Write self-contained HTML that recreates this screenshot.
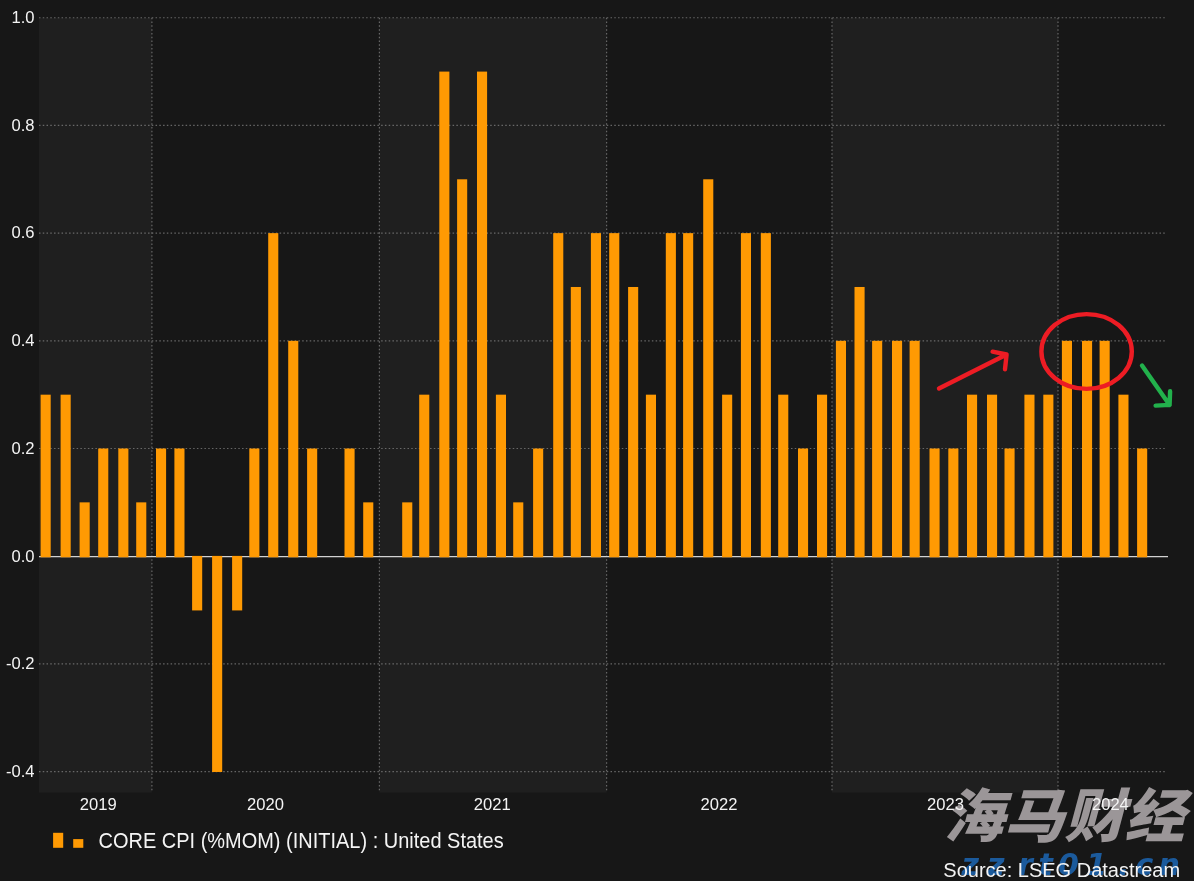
<!DOCTYPE html>
<html lang="zh"><head><meta charset="utf-8"><title>CORE CPI (%MOM)</title>
<style>
html,body{margin:0;padding:0;background:#171717;}
body{width:1194px;height:881px;overflow:hidden;position:relative;}
svg{position:absolute;left:0;top:0;display:block;}
text{font-family:"Liberation Sans",sans-serif;fill:#f4f4f4;}
.wm{font-family:"Liberation Sans","Noto Sans CJK SC",sans-serif;font-weight:900;fill:#9b9698;}
.url{font-family:"DejaVu Sans","Liberation Sans",sans-serif;font-weight:bold;font-style:italic;fill:#1b5a9c;}
</style></head><body>
<svg width="1194" height="881" viewBox="0 0 1194 881">
<rect x="0" y="0" width="1194" height="881" fill="#171717"/>
<rect x="39.0" y="17.85" width="112.9" height="774.75" fill="#1f1f1f"/>
<rect x="379.4" y="17.85" width="227.2" height="774.75" fill="#1f1f1f"/>
<rect x="832.0" y="17.85" width="226.0" height="774.75" fill="#1f1f1f"/>
<g stroke="#8c8c8c" stroke-width="1.2" stroke-dasharray="1.5 2.26" fill="none" opacity="0.68">
<line x1="39.0" y1="17.75" x2="1167.0" y2="17.75"/>
<line x1="39.0" y1="125.44" x2="1167.0" y2="125.44"/>
<line x1="39.0" y1="233.13" x2="1167.0" y2="233.13"/>
<line x1="39.0" y1="340.82" x2="1167.0" y2="340.82"/>
<line x1="39.0" y1="448.51" x2="1167.0" y2="448.51"/>
<line x1="39.0" y1="663.89" x2="1167.0" y2="663.89"/>
<line x1="39.0" y1="771.58" x2="1167.0" y2="771.58"/>
<line x1="151.9" y1="17.85" x2="151.9" y2="792.60"/>
<line x1="379.4" y1="17.85" x2="379.4" y2="792.60"/>
<line x1="606.6" y1="17.85" x2="606.6" y2="792.60"/>
<line x1="832.0" y1="17.85" x2="832.0" y2="792.60"/>
<line x1="1058.0" y1="17.85" x2="1058.0" y2="792.60"/>
</g>
<line x1="39.0" y1="556.65" x2="1168.0" y2="556.65" stroke="#d2d2d2" stroke-width="1.3"/>
<g fill="#ff9a03">
<rect x="40.6" y="394.67" width="10.1" height="162.63"/>
<rect x="60.6" y="394.67" width="10.1" height="162.63"/>
<rect x="79.6" y="502.36" width="10.1" height="54.95"/>
<rect x="98.2" y="448.51" width="10.1" height="108.79"/>
<rect x="118.3" y="448.51" width="10.1" height="108.79"/>
<rect x="136.2" y="502.36" width="10.1" height="54.95"/>
<rect x="156.0" y="448.51" width="10.1" height="108.79"/>
<rect x="174.4" y="448.51" width="10.1" height="108.79"/>
<rect x="192.1" y="555.90" width="10.1" height="54.54"/>
<rect x="212.1" y="555.90" width="10.1" height="216.08"/>
<rect x="232.1" y="555.90" width="10.1" height="54.54"/>
<rect x="249.3" y="448.51" width="10.1" height="108.79"/>
<rect x="268.2" y="233.13" width="10.1" height="324.17"/>
<rect x="288.2" y="340.82" width="10.1" height="216.48"/>
<rect x="307.1" y="448.51" width="10.1" height="108.79"/>
<rect x="344.5" y="448.51" width="10.1" height="108.79"/>
<rect x="363.2" y="502.36" width="10.1" height="54.95"/>
<rect x="402.2" y="502.36" width="10.1" height="54.95"/>
<rect x="419.2" y="394.67" width="10.1" height="162.63"/>
<rect x="439.3" y="71.59" width="10.1" height="485.71"/>
<rect x="457.1" y="179.29" width="10.1" height="378.02"/>
<rect x="477.0" y="71.59" width="10.1" height="485.71"/>
<rect x="495.9" y="394.67" width="10.1" height="162.63"/>
<rect x="513.2" y="502.36" width="10.1" height="54.95"/>
<rect x="533.1" y="448.51" width="10.1" height="108.79"/>
<rect x="553.2" y="233.13" width="10.1" height="324.17"/>
<rect x="570.8" y="286.98" width="10.1" height="270.33"/>
<rect x="590.9" y="233.13" width="10.1" height="324.17"/>
<rect x="609.2" y="233.13" width="10.1" height="324.17"/>
<rect x="628.1" y="286.98" width="10.1" height="270.33"/>
<rect x="645.9" y="394.67" width="10.1" height="162.63"/>
<rect x="665.8" y="233.13" width="10.1" height="324.17"/>
<rect x="683.1" y="233.13" width="10.1" height="324.17"/>
<rect x="703.2" y="179.29" width="10.1" height="378.02"/>
<rect x="722.1" y="394.67" width="10.1" height="162.63"/>
<rect x="740.9" y="233.13" width="10.1" height="324.17"/>
<rect x="760.8" y="233.13" width="10.1" height="324.17"/>
<rect x="778.2" y="394.67" width="10.1" height="162.63"/>
<rect x="798.0" y="448.51" width="10.1" height="108.79"/>
<rect x="817.0" y="394.67" width="10.1" height="162.63"/>
<rect x="835.9" y="340.82" width="10.1" height="216.48"/>
<rect x="854.5" y="286.98" width="10.1" height="270.33"/>
<rect x="872.1" y="340.82" width="10.1" height="216.48"/>
<rect x="892.0" y="340.82" width="10.1" height="216.48"/>
<rect x="909.6" y="340.82" width="10.1" height="216.48"/>
<rect x="929.5" y="448.51" width="10.1" height="108.79"/>
<rect x="948.3" y="448.51" width="10.1" height="108.79"/>
<rect x="967.0" y="394.67" width="10.1" height="162.63"/>
<rect x="987.0" y="394.67" width="10.1" height="162.63"/>
<rect x="1004.5" y="448.51" width="10.1" height="108.79"/>
<rect x="1024.4" y="394.67" width="10.1" height="162.63"/>
<rect x="1043.3" y="394.67" width="10.1" height="162.63"/>
<rect x="1061.9" y="340.82" width="10.1" height="216.48"/>
<rect x="1082.0" y="340.82" width="10.1" height="216.48"/>
<rect x="1099.6" y="340.82" width="10.1" height="216.48"/>
<rect x="1118.4" y="394.67" width="10.1" height="162.63"/>
<rect x="1137.1" y="448.51" width="10.1" height="108.79"/>
</g>
<g transform="translate(943.5 836.7) skewX(-15)"><text class="wm" x="0" y="0" font-size="58" textLength="241" lengthAdjust="spacingAndGlyphs">海马财经</text></g>
<text class="url" x="961.5 987 1018 1038.5 1058 1086 1118 1135.5 1158.5" y="874.5" font-size="30">zzrt01.cn</text>
<g font-size="16.6" text-anchor="end">
<text x="34.6" y="23.05">1.0</text>
<text x="34.6" y="130.74">0.8</text>
<text x="34.6" y="238.43">0.6</text>
<text x="34.6" y="346.12">0.4</text>
<text x="34.6" y="453.81">0.2</text>
<text x="34.6" y="561.50">0.0</text>
<text x="34.6" y="669.19">-0.2</text>
<text x="34.6" y="776.88">-0.4</text>
</g>
<g font-size="16.6" text-anchor="middle">
<text x="98.2" y="810.1">2019</text>
<text x="265.5" y="810.1">2020</text>
<text x="492.3" y="810.1">2021</text>
<text x="719.0" y="810.1">2022</text>
<text x="945.5" y="810.1">2023</text>
<text x="1110.4" y="810.1">2024</text>
</g>
<rect x="53.1" y="832.8" width="10.1" height="15" fill="#ff9a03"/>
<rect x="73.2" y="839.1" width="10.1" height="8.7" fill="#ff9a03"/>
<text x="98.5" y="847.8" font-size="21.6" textLength="405.2" lengthAdjust="spacingAndGlyphs">CORE CPI (%MOM) (INITIAL) : United States</text>
<text x="943.3" y="877" font-size="20">Source: LSEG Datastream</text>
<g fill="none" stroke-linecap="round" stroke-linejoin="round" stroke-width="4.4">
<path d="M939 388.5 L1006.6 354.5 M992.6 351.7 L1006.6 354.5 L1005 369.3" stroke="#ed1c24"/>
<ellipse cx="1086.6" cy="351.5" rx="45.2" ry="37.4" stroke="#ed1c24"/>
<path d="M1142 365.5 L1169.6 404.9 M1155.6 405.6 L1169.6 404.9 L1170.1 391.3" stroke="#22b14c"/>
</g>
</svg>
</body></html>
